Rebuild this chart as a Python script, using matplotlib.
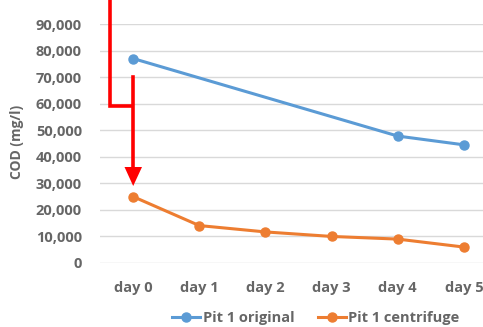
import matplotlib
matplotlib.use('Agg')
import matplotlib.pyplot as plt
from matplotlib.lines import Line2D
from matplotlib.patches import Polygon

# ---- data ----
days = ['day 0', 'day 1', 'day 2', 'day 3', 'day 4', 'day 5']
pit1_original = [77000, None, None, None, 47800, 44500]
pit1_centrifuge = [25000, 14100, 11700, 10000, 9000, 6000]
y_ticks = [0, 10000, 20000, 30000, 40000, 50000, 60000, 70000, 80000, 90000]
y_label = 'COD (mg/l)'

BLUE = '#5B9BD5'
ORANGE = '#ED7D31'
GRAY = '#666666'
RED = '#FF0000'

plt.rcParams['font.family'] = ['Open Sans', 'DejaVu Sans']

W, H = 483, 327
fig = plt.figure(figsize=(W / 100, H / 100), dpi=100)
ax = fig.add_axes([100 / W, 1 - 263 / H, 397 / W, (263 - 24) / H])

x_all = list(range(len(days)))
xo = [i for i, v in enumerate(pit1_original) if v is not None]
yo = [v for v in pit1_original if v is not None]
ax.plot(xo, yo, color=BLUE, lw=2.2, marker='o', ms=6.5, label='Pit 1 original', zorder=3)
ax.plot(x_all, pit1_centrifuge, color=ORANGE, lw=2.2, marker='o', ms=6.5,
        label='Pit 1 centrifuge', zorder=3)

ax.set_xlim(-0.5, len(days) - 0.5)
ax.set_ylim(y_ticks[0], y_ticks[-1])
ax.set_xticks(x_all)
ax.set_xticklabels(days)
ax.set_yticks(y_ticks)
ax.set_yticklabels([f'{v:,}' for v in y_ticks])
ax.grid(axis='y', color='#D9D9D9', lw=1)
ax.set_axisbelow(True)
for s in ax.spines.values():
    s.set_visible(False)
ax.tick_params(length=0, colors=GRAY, labelsize=10.5)
ax.tick_params(axis='x', pad=13)
ax.tick_params(axis='y', pad=13)
for t in ax.get_xticklabels() + ax.get_yticklabels():
    t.set_fontweight('bold')

fig.text(17 / W, 1 - 142 / H, y_label, rotation=90, ha='center', va='center',
         color=GRAY, fontsize=10, fontweight='bold')

fig.legend(loc='center', bbox_to_anchor=(316 / W, 1 - 318 / H), ncol=2, frameon=False,
           prop={'size': 10.5, 'weight': 'bold'}, labelcolor=GRAY,
           handlelength=1.9, columnspacing=1.6, handletextpad=0.2, borderaxespad=0)

# ---- red annotation (bracket and arrow) ----
def fx(px):
    return px / W

def fy(py):
    return 1 - py / H

fig.add_artist(Line2D([fx(110), fx(110), fx(131)], [fy(-5), fy(106), fy(106)],
                      transform=fig.transFigure, color=RED, lw=2.6, solid_joinstyle='miter'))
fig.add_artist(Line2D([fx(133), fx(133)], [fy(77), fy(170)],
                      transform=fig.transFigure, color=RED, lw=2.6))
fig.add_artist(Polygon([[fx(124.5), fy(167)], [fx(142), fy(167)], [fx(133.2), fy(186)]],
                       closed=True, transform=fig.transFigure, color=RED, lw=0))

fig.savefig('out.png', dpi=100)
